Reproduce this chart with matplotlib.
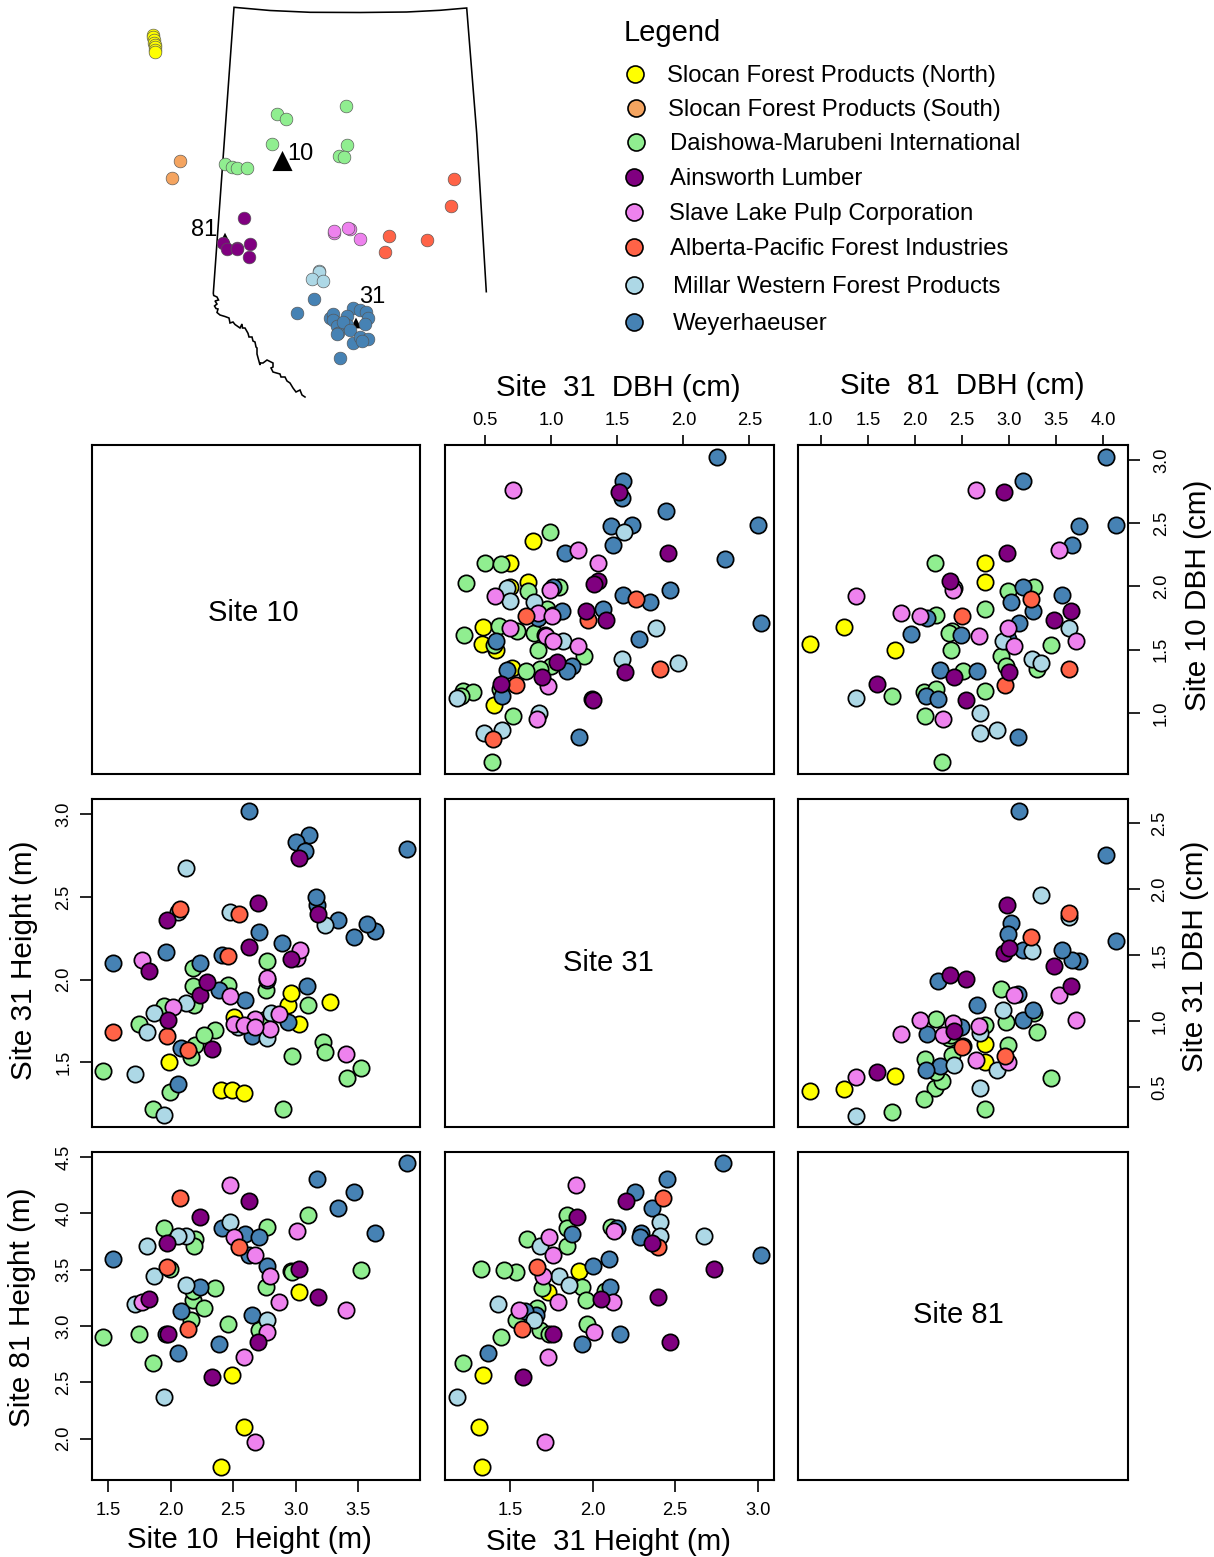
import matplotlib
matplotlib.use("Agg")
import matplotlib.pyplot as plt
import numpy as np

plt.rcParams['font.family'] = ['Liberation Sans', 'DejaVu Sans']
na = float('nan')

# ---------- legend ----------
company_names = ["Slocan Forest Products (North)", "Slocan Forest Products (South)",
                 "Daishowa-Marubeni International", "Ainsworth Lumber",
                 "Slave Lake Pulp Corporation", "Alberta-Pacific Forest Industries",
                 "Millar Western Forest Products", "Weyerhaeuser"]
company_colors = ["#FFFF00", "#F4A460", "#90EE90", "#800080", "#EE82EE", "#FF6347", "#ADD8E6", "#4682B4"]

# ---------- DBH by family (cm) ----------
yellow_d31 = [.860, .691, .825, .689, .487, .475, .583, .704, .568]
yellow_d10 = [2.361, 2.187, 2.034, 1.997, 1.682, 1.547, 1.497, 1.355, 1.063]
yellow_d81 = [na, 2.740, 2.744, na, 1.244, .887, 1.785, na, na]

green_d31 = [.994, .497, .621, .354, .822, 1.062, .971, 1.016, .603, .744, .873, .344, .898, 1.246, .996, .916, .810, .336, .412, .314, .571, .714, .550, .616]
green_d10 = [2.429, 2.187, 2.179, 2.029, 1.968, 1.997, 1.824, 1.771, 1.684, 1.650, 1.632, 1.618, 1.497, 1.447, 1.368, 1.347, 1.329, 1.176, 1.163, 1.137, 1.539, .979, .616, 1.192]
green_d81 = [na, 2.217, na, na, 2.984, 3.264, 2.747, 2.227, na, 2.394, 2.362, na, 2.387, 2.910, 2.963, 3.292, 2.514, 2.747, 2.097, 1.761, 3.441, 2.104, 2.284, 2.224]

blue_d31 = [2.258, 1.543, 1.538, 1.870, 2.565, 1.608, 1.455, 1.105, 1.467, 2.314, 1.900, 1.540, 1.747, 1.011, 1.084, 1.392, .903, 1.664, 2.591, .956, na, .583, .664, 1.155, 1.120, .631, 1.309, 1.208]
blue_d10 = [3.024, 2.837, 2.703, 2.595, 2.482, 2.487, 2.476, 2.263, 2.326, 2.221, 1.974, 1.932, 1.874, 1.997, 1.805, 1.824, 1.750, 1.587, 1.713, 1.613, 1.621, 1.566, 1.337, 1.374, 1.334, 1.134, 1.111, .811]
blue_d81 = [4.031, 3.144, na, na, na, 4.131, 3.745, na, 3.664, na, na, 3.557, 3.020, 3.151, 3.257, na, 2.125, 2.992, 3.108, 2.486, 1.955, na, 2.266, na, 2.655, 2.114, 2.249, 3.091]

violet_d31 = [.709, 1.203, 1.356, .991, .576, .903, 1.009, .689, .961, 1.011, 1.200, .979, .895]
violet_d10 = [2.761, 2.287, 2.189, 1.971, 1.921, 1.792, 1.768, 1.671, 1.605, 1.571, 1.532, 1.213, .953]
violet_d81 = [2.648, 3.526, na, 2.404, 1.371, 1.856, 2.051, 2.992, 2.680, 3.713, 3.052, na, 2.298]

purple_d31 = [1.515, 1.885, 1.351, 1.324, 1.266, 1.417, 1.047, 1.558, .928, .618, 1.319]
purple_d10 = [2.747, 2.263, 2.045, 2.018, 1.805, 1.734, 1.400, 1.321, 1.284, 1.229, 1.105]
purple_d81 = [2.946, 2.974, 2.376, na, 3.657, 3.476, na, 3.002, 2.411, 1.598, 2.542]

tomato_d31 = [1.639, .807, 1.278, 1.822, .734, .558]
tomato_d10 = [1.903, 1.768, 1.734, 1.345, 1.224, .797]
tomato_d81 = [3.232, 2.496, na, 3.639, 2.960, na]

lblue_d31 = [1.553, .669, .689, .873, 1.089, 1.792, 1.533, 1.961, .286, .911, .628, .495]
lblue_d10 = [2.434, 1.984, 1.887, 1.876, 1.568, 1.671, 1.426, 1.397, 1.118, 1.000, .868, .842]
lblue_d81 = [na, 2.415, na, na, 2.938, 3.635, 3.239, 3.335, 1.371, 2.694, 2.875, 2.694]

# ---------- Height by family (m) ----------
yellow_h10 = [1.989, 2.404, 2.492, 2.588, 2.508, 3.027, 2.939, 2.963, 3.274]
yellow_h31 = [1.502, 1.331, 1.335, 1.313, 1.776, 1.732, 1.847, 1.917, 1.867]
yellow_h81 = [na, 1.745, 2.566, 2.107, na, 3.306, na, 3.484, na]

green_h10 = [3.096, 1.949, 2.769, 2.197, 2.189, 2.968, 3.521, 1.997, 2.356, 2.761, 2.176, 2.269, 2.165, 2.455, 2.705, 1.457, 1.745, 1.856, 2.181, 3.221, 3.237, 3.412, 2.899, 2.761]
green_h31 = [1.847, 1.843, 2.111, 1.605, 1.847, 1.538, 1.464, 1.323, 1.696, 1.938, 1.962, 1.665, 1.534, 1.968, 1.681, 1.446, 1.734, 1.218, 2.073, 1.621, 1.560, 1.405, 1.218, 1.762]
green_h81 = [3.988, 3.869, 3.878, 3.768, 3.706, 3.478, 3.493, 3.505, 3.333, 3.342, 3.232, 3.158, 3.055, 3.016, 2.966, 2.903, 2.930, 2.669, 3.315, na, na, na, na, na]

blue_h10 = [2.628, 3.891, 3.173, 3.468, 3.340, 3.633, 2.412, 2.598, 2.707, 1.537, 2.649, 2.774, 2.231, 2.085, 2.388, 2.056, 1.965, 3.109, 3.005, 3.072, 3.566, 2.891, 3.093, 2.936, 3.165]
blue_h31 = [3.022, 2.788, 2.452, 2.260, 2.359, 2.294, 2.149, 1.875, 2.288, 2.101, 1.659, 2.000, 2.103, 1.589, 1.938, 1.367, 2.169, 2.875, 2.835, 2.780, 2.335, 2.220, 1.962, 1.746, 2.500]
blue_h81 = [3.632, 4.444, 4.302, 4.186, 4.047, 3.825, 3.869, 3.816, 3.792, 3.594, 3.099, 3.531, 3.342, 3.129, 2.838, 2.764, 2.930, na, na, na, na, na, na, na, na]

violet_h10 = [2.473, 3.013, 2.508, 2.673, 2.795, 2.862, 3.404, 2.769, 2.588, 2.673, 1.769, 3.035, 2.019]
violet_h31 = [1.899, 2.129, 1.734, 1.762, 1.700, 1.792, 1.552, 2.010, 1.728, 1.712, 2.121, 2.179, 1.837]
violet_h81 = [4.254, 3.839, 3.786, 3.632, 3.440, 3.217, 3.140, 2.945, 2.729, 1.973, 3.209, na, na]

purple_h10 = [2.630, 2.237, 1.973, 3.027, 3.178, 1.824, 1.981, 2.697, 2.327, 2.965, 2.287]
purple_h31 = [2.200, 1.907, 2.359, 2.734, 2.395, 2.054, 1.758, 2.466, 1.579, 2.125, 1.988]
purple_h81 = [4.112, 3.967, 3.736, 3.502, 3.259, 3.238, 2.933, 2.862, 2.548, na, na]

tomato_h10 = [2.077, 2.543, 1.971, 2.136, 2.460, 1.537]
tomato_h31 = [2.427, 2.397, 1.661, 1.575, 2.143, 1.683]
tomato_h81 = [4.136, 3.700, 3.528, 2.972, na, na]

lblue_h10 = [2.125, 2.471, 1.814, 1.864, 2.120, 1.715, 2.774, 1.947, 2.056, 3.234, 2.801, 2.535]
lblue_h31 = [2.677, 2.411, 1.683, 1.796, 1.857, 1.429, 1.645, 1.179, 2.409, 2.331, 1.796, 1.712]
lblue_h81 = [3.795, 3.922, 3.706, 3.443, 3.366, 3.194, 3.049, 2.370, 3.795, na, na, na]

# ---------- map sites (map units east / north) ----------
yellow_e = [22.7, 23.3, 24, 24.3, 24.7, 25, 25.3, 24.7]
yellow_n = [365, 362.7, 360, 357.3, 355, 352.7, 350, 348.3]
sandy_e = [50.3, 41.7]
sandy_n = [239, 222]
green_e = [215.7, 147, 155.7, 142.3, 217.3, 208.7, 214.3, 95, 101.7, 106.7, 117.3]
green_n = [293.7, 285.7, 280.7, 256, 255, 244.3, 243.3, 236, 233.3, 231.7, 232.3]
purple_e = [113.7, 93.3, 97.3, 106.7, 107.3, 120, 119]
purple_n = [182, 157.3, 151.3, 151.7, 150.7, 155.7, 143.3]
violet_e = [204.3, 204.3, 220, 218.3, 230.3]
violet_n = [167.3, 169, 171.3, 171.7, 160.7]
tomato_e = [323.7, 321, 259, 297, 254.7]
tomato_n = [220.7, 193.7, 164, 160, 147.7]
lblue_e = [188.7, 188.7, 181.7, 192.7]
lblue_n = [129, 128.3, 120.7, 119.3]
blue_e = [184, 167.3, 210.3, 223.3, 230, 236, 200, 203.3, 217.3, 238.3, 203.3, 206.7, 216.7, 235, 208.3, 206.7, 213.3, 220, 223.3, 230, 238.3, 232.3]
blue_n = [100.7, 87, 41.7, 91.7, 90, 88.3, 81.7, 86, 84, 81.7, 80, 74, 75, 76, 66.7, 65.7, 78.3, 70, 56.7, 62.7, 61, 59.3]

site_names = ["10", "81", "31"]
site_e = [152.5, 95, 226]
site_n = [239, 160, 77]
site_size = [210, 110, 60]
site_label_e = [170, 74, 242]
site_label_n = [248, 172, 105]

border_e = [356.3, 346.7, 336.7, 310, 276.7, 230, 180, 140, 104, 83.3, 83.7, 87, 88.5, 85, 87, 84.5, 86, 88, 87, 90, 95, 99, 100, 103, 105, 110, 112, 112.5, 115, 118, 119, 122, 123, 125, 126, 127, 127, 130, 130.5, 133, 137, 143, 143, 141, 143, 150, 151, 155, 157, 160, 163, 166, 170, 172, 175]
border_n = [108.3, 266.7, 392, 389.7, 388, 387.5, 387.7, 389.5, 392.7, 106.7, 104.5, 103, 100, 99, 96, 94, 91.5, 91, 87.5, 85, 83.5, 82, 77, 78, 75.5, 72, 76, 72, 72, 66.7, 63, 63, 59, 58, 53, 52, 46, 35, 37, 37, 40, 37, 33, 32, 28, 26, 23, 23, 19, 17, 12, 8, 10, 5, 3]

ticks_d31 = [0.5, 1.0, 1.5, 2.0, 2.5]
ticks_d81 = [1.0, 1.5, 2.0, 2.5, 3.0, 3.5, 4.0]
ticks_d10 = [1.0, 1.5, 2.0, 2.5, 3.0]
ticks_h10 = [1.5, 2.0, 2.5, 3.0, 3.5]
ticks_h31 = [1.5, 2.0, 2.5, 3.0]
ticks_h81 = [2.0, 2.5, 3.0, 3.5, 4.0, 4.5]

W, H = 1214, 1557
fig = plt.figure(figsize=(W / 100, H / 100), dpi=100)


def px_axes(x0, y0, x1, y1, **kw):
    return fig.add_axes([x0 / W, 1 - y1 / H, (x1 - x0) / W, (y1 - y0) / H], **kw)


# ---------- map ----------
m = px_axes(130, 0, 500, 400)
m.set_xlim(0, 370)
m.set_ylim(0, 400)
m.axis('off')
m.plot(border_e, border_n, color='black', lw=1.15, solid_joinstyle='miter')
MAP_S = 84
for e, n, c in [(yellow_e, yellow_n, company_colors[0]), (sandy_e, sandy_n, company_colors[1]),
                (green_e, green_n, company_colors[2]), (violet_e, violet_n, company_colors[4]),
                (tomato_e, tomato_n, company_colors[5]), (lblue_e, lblue_n, company_colors[6])]:
    m.scatter(e, n, s=MAP_S, c=c, edgecolors='#555555', linewidths=0.45, zorder=3)
m.scatter(site_e, site_n, s=site_size, marker='^', c='black', linewidths=0, zorder=3)
m.scatter(purple_e, purple_n, s=MAP_S, c=company_colors[3], edgecolors='#555555', linewidths=0.45, zorder=4)
m.scatter(blue_e, blue_n, s=MAP_S, c=company_colors[7], edgecolors='#555555', linewidths=0.45, zorder=4)
for name, e, n in zip(site_names, site_label_e, site_label_n):
    m.text(e, n - 2, name, fontsize=17, ha='center', va='center')

# ---------- legend (figure-level overlay) ----------
leg = px_axes(600, 0, W, 345)
leg.set_xlim(600, W)
leg.set_ylim(345, 0)
leg.axis('off')
legend_marker_x = [635, 636, 636, 634, 634, 634, 634, 634]
legend_y = [74, 108, 142, 177, 212, 247, 285, 322]
legend_text_x = [667, 668, 670, 670, 669, 670, 673, 673]
leg.text(624, 33, "Legend", fontsize=21, va='center', ha='left')
for name, c, mx, tx, y in zip(company_names, company_colors, legend_marker_x, legend_text_x, legend_y):
    leg.scatter([mx], [y], s=150, c=c, edgecolors='black', linewidths=1.2)
    leg.text(tx, y + 2, name, fontsize=17.2, va='center', ha='left')

# ---------- pair panels ----------
col_x = [(91.7, 420), (444.5, 774), (798, 1127.7)]
row_y = [(445, 774), (799, 1127), (1151.7, 1479.7)]
xlim_d31 = (0.1927, 2.686)
xlim_d81 = (0.7595, 4.257)
ylim_d10 = (0.518, 3.118)
ylim_d31 = (0.199, 2.685)
xlim_h10 = (1.370, 3.992)
ylim_h31 = (1.109, 3.093)
ylim_h81 = (1.636, 4.547)
xlim_h31 = (1.103, 3.099)

draw_order = [
    ("#FFFF00", yellow_d10, yellow_d31, yellow_d81, yellow_h10, yellow_h31, yellow_h81),
    ("#90EE90", green_d10, green_d31, green_d81, green_h10, green_h31, green_h81),
    ("#4682B4", blue_d10, blue_d31, blue_d81, blue_h10, blue_h31, blue_h81),
    ("#ADD8E6", lblue_d10, lblue_d31, lblue_d81, lblue_h10, lblue_h31, lblue_h81),
    ("#EE82EE", violet_d10, violet_d31, violet_d81, violet_h10, violet_h31, violet_h81),
    ("#FF6347", tomato_d10, tomato_d31, tomato_d81, tomato_h10, tomato_h31, tomato_h81),
    ("#800080", purple_d10, purple_d31, purple_d81, purple_h10, purple_h31, purple_h81),
]
VAR = {'d10': 1, 'd31': 2, 'd81': 3, 'h10': 4, 'h31': 5, 'h81': 6}


def panel(r, c):
    x0, x1 = col_x[c]
    y0, y1 = row_y[r]
    ax = px_axes(x0, y0, x1, y1)
    ax.set_xticks([])
    ax.set_yticks([])
    for s in ax.spines.values():
        s.set_linewidth(1.5)
    return ax


def scatter_pair(ax, xv, yv, xlim, ylim):
    for fam in draw_order:
        ax.scatter(fam[VAR[xv]], fam[VAR[yv]], s=138, c=fam[0], edgecolors='black',
                   linewidths=1.25, clip_on=True)
    ax.set_xlim(*xlim)
    ax.set_ylim(*ylim)


def xaxis(ax, ticks, top):
    ax.set_xticks(ticks)
    ax.set_xticklabels([f"{t:.1f}" for t in ticks])
    ax.tick_params(axis='x', which='major', top=top, bottom=not top, labeltop=top, labelbottom=not top,
                   length=7.2 if top else 8.8, width=1.2, labelsize=13.2, pad=4 if top else 7.2)


def yaxis(ax, ticks, right, pad):
    ax.set_yticks(ticks)
    ax.set_yticklabels([f"{t:.1f}" for t in ticks], rotation=90, va='center')
    ax.tick_params(axis='y', which='major', right=right, left=not right, labelright=right, labelleft=not right,
                   length=8.6, width=1.2, labelsize=13.2, pad=pad)


a01 = panel(0, 1); scatter_pair(a01, 'd31', 'd10', xlim_d31, ylim_d10); xaxis(a01, ticks_d31, True)
a02 = panel(0, 2); scatter_pair(a02, 'd81', 'd10', xlim_d81, ylim_d10); xaxis(a02, ticks_d81, True); yaxis(a02, ticks_d10, True, 9.6)
a12 = panel(1, 2); scatter_pair(a12, 'd81', 'd31', xlim_d81, ylim_d31); yaxis(a12, ticks_d31, True, 8.6)
a10 = panel(1, 0); scatter_pair(a10, 'h10', 'h31', xlim_h10, ylim_h31); yaxis(a10, ticks_h31, False, 5.2)
a20 = panel(2, 0); scatter_pair(a20, 'h10', 'h81', xlim_h10, ylim_h81); yaxis(a20, ticks_h81, False, 5.2); xaxis(a20, ticks_h10, False)
a21 = panel(2, 1); scatter_pair(a21, 'h31', 'h81', xlim_h31, ylim_h81); xaxis(a21, ticks_h31, False)

for r, c, lab, lx, ly in [(0, 0, "Site 10", 253, 613), (1, 1, "Site 31", 608.5, 963), (2, 2, "Site 81", 958, 1315)]:
    ax = panel(r, c)
    fig.text(lx / W, 1 - ly / H, lab, fontsize=21, ha='center', va='center')


def ftext(x, y, s, rot=0, size=21.2):
    fig.text(x / W, 1 - y / H, s, fontsize=size, rotation=rot, ha='center', va='center')


ftext(618, 388, "Site  31  DBH (cm)")
ftext(962, 386, "Site  81  DBH (cm)")
ftext(1198, 595, "Site 10 DBH (cm)", rot=90, size=21.4)
ftext(1195, 956, "Site 31 DBH (cm)", rot=90, size=21.4)
ftext(24, 960, "Site 31 Height (m)", rot=90, size=21.4)
ftext(22, 1307, "Site 81 Height (m)", rot=90, size=21.4)
ftext(249, 1540, "Site 10  Height (m)")
ftext(609, 1542, "Site  31 Height (m)")

fig.savefig("out.png", dpi=100, facecolor='white')
